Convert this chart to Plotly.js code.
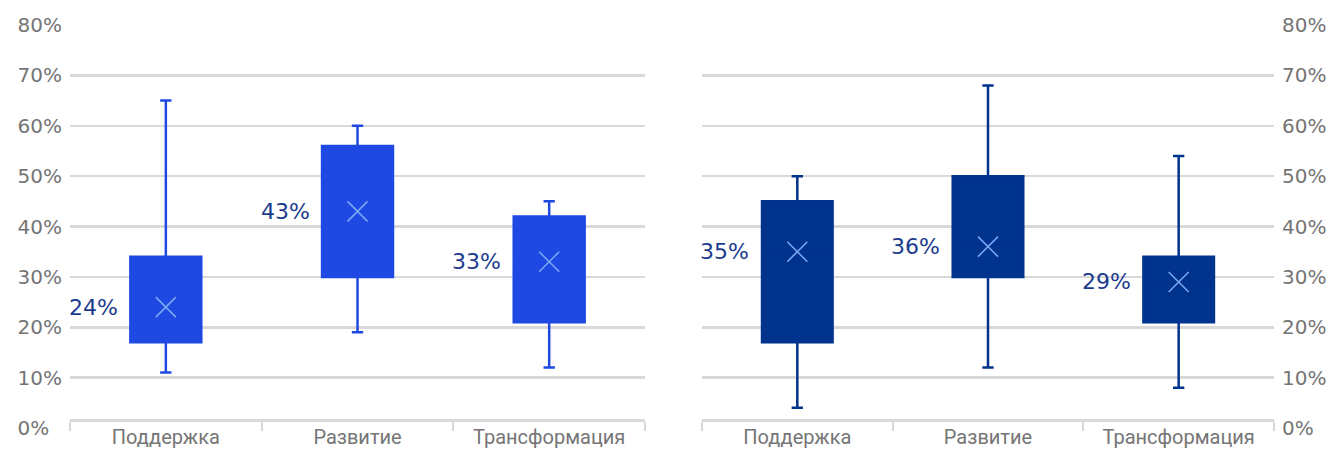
<!DOCTYPE html>
<html>
<head>
<meta charset="utf-8">
<script src="https://cdn.plot.ly/plotly-3.0.1.min.js"></script>
<style>
  html, body { margin: 0; padding: 0; background: #ffffff; }
  #chart { width: 1333px; height: 449px; }
</style>
</head>
<body>
<div id="chart"></div>
<script>
// Stages shown on both panels
const categories = ['Поддержка', 'Развитие', 'Трансформация'];

// Left panel: spread of shares, %
const leftMin  = [11, 19, 12];
const leftQ1   = [17, 30, 21];
const leftQ3   = [34, 56, 42];
const leftMax  = [65, 60, 45];
const leftMean = [24, 43, 33];

// Right panel: spread of shares, %
const rightMin  = [4, 12, 8];
const rightQ1   = [17, 30, 21];
const rightQ3   = [45, 50, 34];
const rightMax  = [50, 68, 54];
const rightMean = [35, 36, 29];

// Value axis ticks, %
const yTicks = [0, 10, 20, 30, 40, 50, 60, 70, 80];

const COBALT = '#1E49E2';
const NAVY = '#00338D';
const LABEL_BLUE = '#1b3b8e';
const GRID = '#d9d9d9';
const GREY_TEXT = '#757575';
const MEAN_X = '#7ea8f5';

function boxTrace(xa, ya, lo, q1, q3, hi, mean, color) {
  return {
    type: 'box', xaxis: xa, yaxis: ya,
    x: categories, q1: q1, median: mean, q3: q3,
    lowerfence: lo, upperfence: hi,
    fillcolor: color, line: { color: color, width: 2.5 },
    width: 0.37, whiskerwidth: 0.16, boxpoints: false,
    hoverinfo: 'skip', showlegend: false
  };
}

function meanTrace(xa, ya, mean) {
  return {
    type: 'scatter', mode: 'markers', xaxis: xa, yaxis: ya,
    x: categories, y: mean,
    marker: { symbol: 'x-thin-open', size: 20, color: MEAN_X, line: { color: MEAN_X, width: 1.5 } },
    hoverinfo: 'skip', showlegend: false
  };
}

function meanLabels(xa, ya, mean) {
  return mean.map((m, i) => ({
    xref: xa, yref: ya, x: categories[i], y: m,
    text: Math.round(m) + '%', showarrow: false,
    xanchor: 'right', yanchor: 'middle', xshift: -46,
    font: { family: 'DejaVu Sans', size: 22, color: LABEL_BLUE }
  }));
}

const tickFont = { family: 'DejaVu Sans', size: 20, color: GREY_TEXT };
const catFont = { family: 'Roboto, sans-serif', size: 20, color: GREY_TEXT };

function xAxis(domain) {
  return {
    domain: domain, type: 'category', range: [-0.5, 2.5],
    anchor: 'free', position: 0.02,
    showline: true, linecolor: GRID, linewidth: 3,
    ticks: 'outside', tickson: 'boundaries', ticklen: 9, tickwidth: 2, tickcolor: GRID,
    tickangle: 0, ticklabelstandoff: -2,
    showgrid: false, zeroline: false, tickfont: catFont, fixedrange: true
  };
}

function yAxis(side, anchor, leftAligned) {
  return {
    range: [0, 80], side: side, anchor: anchor,
    tickmode: 'array', tickvals: yTicks,
    ticktext: yTicks.map(v => leftAligned && v < 10 ? v + '%\u2007' : v + '%'),
    showgrid: true, gridcolor: GRID, gridwidth: 2.5,
    zeroline: false, showline: false, ticks: '',
    ticklabelstandoff: 7, tickfont: tickFont, fixedrange: true
  };
}

const data = [
  boxTrace('x', 'y', leftMin, leftQ1, leftQ3, leftMax, leftMean, COBALT),
  meanTrace('x', 'y', leftMean),
  boxTrace('x2', 'y2', rightMin, rightQ1, rightQ3, rightMax, rightMean, NAVY),
  meanTrace('x2', 'y2', rightMean)
];

const layout = {
  width: 1333, height: 449,
  margin: { l: 70, r: 59, t: 25, b: 21 },
  paper_bgcolor: '#ffffff', plot_bgcolor: '#ffffff',
  showlegend: false,
  xaxis: xAxis([0, 0.4776]),
  xaxis2: xAxis([0.5249, 1]),
  yaxis: yAxis('left', 'x', true),
  yaxis2: yAxis('right', 'x2', false),
  annotations: meanLabels('x', 'y', leftMean).concat(meanLabels('x2', 'y2', rightMean))
};

Plotly.newPlot('chart', data, layout, { displayModeBar: false, staticPlot: true });
</script>
</body>
</html>
